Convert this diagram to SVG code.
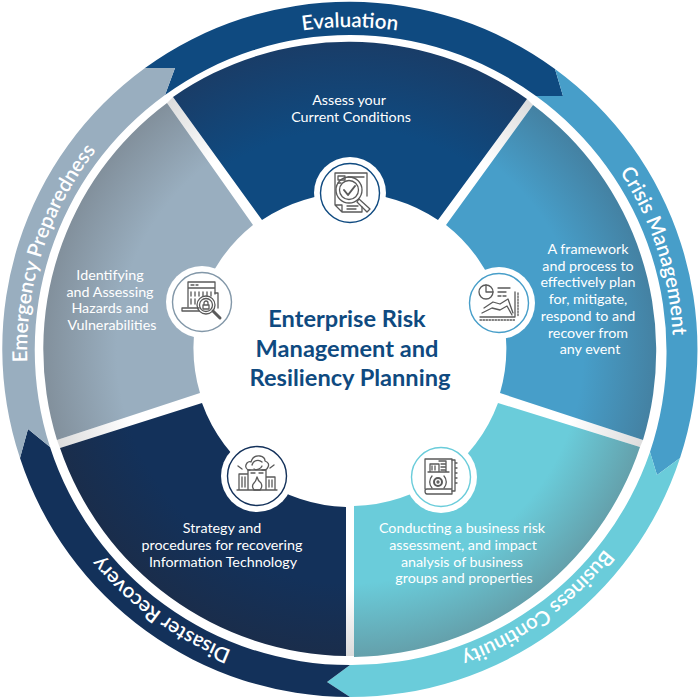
<svg xmlns="http://www.w3.org/2000/svg" width="700" height="700" viewBox="0 0 700 700">
<style>
.t{font-family:"Lato","Noto Sans",sans-serif;font-size:14.3px;fill:#fff;text-anchor:middle}
.b{font-family:"Lato","Noto Sans",sans-serif;font-size:20.5px;font-weight:600;fill:#fff;text-anchor:middle}
.h{font-family:"Lato","Noto Sans",sans-serif;font-size:23.6px;font-weight:700;fill:#0f4a80;text-anchor:middle}
.i{fill:none;stroke:#5a5a5a;stroke-width:1.3;stroke-linejoin:round;stroke-linecap:round}
.w{fill:#fff}
.r{fill:#fff;stroke-width:1.4}
</style>
<defs>
<path id="arc" d="M70.3,188.5 A323,323 0 0 1 629.7,188.5"/>
<radialGradient id="g0" gradientUnits="userSpaceOnUse" cx="350" cy="350" r="307"><stop offset="0.72" stop-color="#0f4a80"/><stop offset="1" stop-color="#193d68"/></radialGradient>
<radialGradient id="g1" href="#g0"><stop offset="0.76" stop-color="#479ec9"/><stop offset="1" stop-color="#4481a2"/></radialGradient>
<radialGradient id="g2" href="#g0"><stop offset="0.76" stop-color="#6accda"/><stop offset="1" stop-color="#64a0ab"/></radialGradient>
<radialGradient id="g3" href="#g0"><stop offset="0.76" stop-color="#13315a"/><stop offset="1" stop-color="#1a2d4b"/></radialGradient>
<radialGradient id="g4" href="#g0"><stop offset="0.76" stop-color="#99aebf"/><stop offset="1" stop-color="#82909c"/></radialGradient>
<linearGradient id="s0" gradientUnits="userSpaceOnUse" x1="170" y1="100" x2="215" y2="162"><stop offset="0" stop-color="#dcdcdc"/><stop offset="1" stop-color="#fff"/></linearGradient>
<linearGradient id="s1" gradientUnits="userSpaceOnUse" x1="530" y1="102" x2="485" y2="164"><stop offset="0" stop-color="#dcdcdc"/><stop offset="1" stop-color="#fff"/></linearGradient>
<linearGradient id="s2" gradientUnits="userSpaceOnUse" x1="642" y1="444" x2="570" y2="420"><stop offset="0" stop-color="#dcdcdc"/><stop offset="1" stop-color="#fff"/></linearGradient>
<linearGradient id="s3" gradientUnits="userSpaceOnUse" x1="350" y1="656" x2="350" y2="590"><stop offset="0" stop-color="#dcdcdc"/><stop offset="1" stop-color="#fff"/></linearGradient>
<linearGradient id="s4" gradientUnits="userSpaceOnUse" x1="58" y1="444" x2="130" y2="420"><stop offset="0" stop-color="#dcdcdc"/><stop offset="1" stop-color="#fff"/></linearGradient>
</defs>
<rect width="700" height="700" fill="#fff"/>
<g id="separators">
<path fill="url(#s0)" d="M167,103 L173,97 L262,220 L253,225 Z"/>
<path fill="url(#s1)" d="M527,99 L533,105 L446,225 L438,220 Z"/>
<path fill="url(#s2)" d="M643,440 L640,447 L498,403 L500,393 Z"/>
<path fill="url(#s3)" d="M346,656 L354,656 L354,506 L346,506 Z"/>
<path fill="url(#s4)" d="M60,448 L57,440 L200,393 L202,403 Z"/>
</g>
<g id="evaluation">
<path fill="#0f4a80" d="M145,68 A348,348 0 0 1 555,69 L563,96 L536,96 A315,315 0 0 0 165,95 L175,68 Z"/>
<path fill="url(#g0)" d="M173,97 A307,307 0 0 1 527,99 L438,220 A157,157 0 0 0 262,220 Z"/>
<text class="b"><textPath href="#arc" startOffset="50%">Evaluation</textPath></text>
<text class="t" x="349" y="105">Assess your</text>
<text class="t" x="351" y="122">Current Conditions</text>
<circle class="w" cx="350" cy="193" r="36"/>
<circle class="r" cx="350" cy="193" r="29.5" stroke="#0f4a80"/>
<g class="i" transform="translate(350 193)">
<path d="M-15,12 V-20 H17 V3 M-15,12 L-8,19 H12 V14 M-15,12 H-8 V19"/>
<path d="M-12,-17 H-5 V-13 H-12 Z M-2,-16 H14 M-12,-10 H-9 M-3,13 H8 M-3,16 H6"/>
<circle cx="-1" cy="-3" r="13"/><circle cx="-1" cy="-3" r="9.5"/>
<path d="M-6,-3 L-2,2 L5,-7" stroke-width="2"/>
<path d="M9,6 L20,16 L17,19 L7,9 Z"/>
</g>
</g>
<g id="crisis-management">
<path fill="#479ec9" d="M555,69 A347,347 0 0 1 680,458 L657,475 L650,452 A315,315 0 0 0 536,96 L563,96 Z"/>
<path fill="url(#g1)" d="M533,105 A307,307 0 0 1 643,440 L500,393 A157,157 0 0 0 446,225 Z"/>
<text class="b" transform="rotate(72 350 350)"><textPath href="#arc" startOffset="50%">Crisis Management</textPath></text>
<text class="t" x="588" y="254">A framework</text>
<text class="t" x="588" y="271">and process to</text>
<text class="t" x="588" y="287">effectively plan</text>
<text class="t" x="588" y="304">for, mitigate,</text>
<text class="t" x="588" y="321">respond to and</text>
<text class="t" x="588" y="338">recover from</text>
<text class="t" x="590" y="354">any event</text>
<circle class="w" cx="499" cy="303" r="36"/>
<circle class="r" cx="499" cy="303" r="29.5" stroke="#479ec9"/>
<g class="i" transform="translate(499 303)">
<circle cx="-13" cy="-11" r="7"/><path d="M-13,-18 V-11 H-6"/>
<path d="M-1,-15 H11 M-1,-11 H7 M-1,-7 H2 M4,-7 H7"/>
<path d="M-15,5 L-6,-1 L1,1 L9,-4 L14,10 M-17,10 L-7,5 L1,7 L8,3 L13,12"/>
<path d="M16,-11 V14 H-19"/>
<path d="M19,-10 V13 M-19,17 H16" stroke-dasharray="1.5 1.5"/>
</g>
</g>
<g id="business-continuity">
<path fill="#6accda" d="M680,458 A347,347 0 0 1 350,697 L327,682 L350,665 A315,315 0 0 0 650,452 L657,475 Z"/>
<path fill="url(#g2)" d="M640,447 A307,307 0 0 1 354,657 L354,506 A157,157 0 0 0 498,403 Z"/>
<text class="b" transform="rotate(144 350 350)"><textPath href="#arc" startOffset="50%">Business Continuity</textPath></text>
<text class="t" x="462" y="533">Conducting a business risk</text>
<text class="t" x="463" y="550">assessment, and impact</text>
<text class="t" x="462" y="567">analysis of business</text>
<text class="t" x="464" y="583">groups and properties</text>
<circle class="w" cx="441" cy="477" r="36"/>
<circle class="r" cx="441" cy="477" r="29.5" stroke="#6accda"/>
<g class="i" transform="translate(441 477)">
<path d="M-16,12 V-18 H11 V17 H-14 Q-16,17 -16,14 Q-16,12 -14,12 H11"/>
<path d="M11,-17 H14 V14 H11 M14,-14 H16 M14,-9 H16 M14,-4 H16 M14,1 H16 M14,6 H16"/>
<path d="M-13,-5 H8 M-11,-5 V-13 H-2 V-5 M-2,-16 H5 V-5 M-9,-11 V-7 M-6,-11 V-7 M0,-13 H4 M0,-10 H4 M0,-7 H4"/>
<circle cx="-3" cy="5" r="4" stroke-width="2"/><circle cx="-3" cy="5" r="1"/>
<path d="M-9,-1 A9,9 0 0 0 -9,11 M3,-1 A9,9 0 0 1 3,11"/>
</g>
</g>
<g id="disaster-recovery">
<path fill="#13315a" d="M350,697 A347,347 0 0 1 20,458 L28,429 L50,447 A315,315 0 0 0 350,665 L327,682 Z"/>
<path fill="url(#g3)" d="M346,656 A307,307 0 0 1 60,448 L202,403 A157,157 0 0 0 346,507 Z"/>
<text class="b" transform="rotate(216 350 350)"><textPath href="#arc" startOffset="50%">Disaster Recovery</textPath></text>
<text class="t" x="222" y="533">Strategy and</text>
<text class="t" x="222" y="550">procedures for recovering</text>
<text class="t" x="223" y="567">Information Technology</text>
<circle class="w" cx="257" cy="476" r="36"/>
<circle class="r" cx="257" cy="476" r="29.5" stroke="#13315a"/>
<g class="i" transform="translate(257 476)">
<path d="M-9,14 V-2 H-18 V14 M9,14 V1 H18 V14 M-9,14 V-6 H9 V14 M-20,14 H20"/>
<path d="M-15,1 V11 M-12,1 V11 M12,4 V11 M15,4 V11 M-6,-3 H-2 M2,-3 H6"/>
<path d="M-7,-6 H-9 Q-13,-9 -10,-13 Q-8,-15 -6,-14 Q-4,-21 3,-20 Q8,-19 8,-15 Q13,-13 11,-9 Q10,-6 7,-6 H5"/>
<path d="M-5,-11 A6,6 0 0 1 5,-14 M5,-10 A6,6 0 0 1 -3,-7"/>
<path d="M-19,-10 L-15,-7 M17,-11 L13,-8"/>
<path d="M0,1 Q1,5 4,7 Q6,11 3,14 H-3 Q-6,10 -3,7 Q-1,5 0,1 Z"/>
</g>
</g>
<g id="emergency-preparedness">
<path fill="#99aebf" d="M20,458 A347,347 0 0 1 145,68 L175,68 L165,95 A315,315 0 0 0 50,447 L28,429 Z"/>
<path fill="url(#g4)" d="M57,440 A307,307 0 0 1 167,103 L253,225 A157,157 0 0 0 200,393 Z"/>
<text class="b" transform="rotate(288 350 350)"><textPath href="#arc" startOffset="50%">Emergency Preparedness</textPath></text>
<text class="t" x="110" y="280">Identifying</text>
<text class="t" x="110" y="297">and Assessing</text>
<text class="t" x="110" y="313">Hazards and</text>
<text class="t" x="112" y="330">Vulnerabilities</text>
<circle class="w" cx="202" cy="302" r="36"/>
<circle class="r" cx="202" cy="302" r="29.5" stroke="#8297a8"/>
<g class="i" transform="translate(202 302)">
<path d="M-14,5 V-20 H13 V-8 M-14,-14 H13 M-11,-17 H-8 M-6,-17 H-4"/>
<path d="M-20,6 H-3 M-20,6 V9 H-3"/>
<path d="M13,-9 H16 V6"/>
<path d="M-11,-10 V-6 M-7,-10 V-6 M-3,-10 V-6 M1,-10 V-6 M5,-10 V-6 M9,-10 V-6 M-11,-3 V2 M-7,-3 V2"/>
<circle cx="4" cy="3" r="9"/><circle cx="4" cy="3" r="6.5"/>
<path d="M11,9 L18,16" stroke-width="3"/>
<path d="M1,3 H7 V7 H1 Z M2,3 V1 A2,2 0 0 1 6,1 V3"/>
</g>
</g>
<g id="center-title">
<text class="h" x="347" y="327">Enterprise Risk</text>
<text class="h" x="347" y="357">Management and</text>
<text class="h" x="350" y="386">Resiliency Planning</text>
</g>
</svg>
